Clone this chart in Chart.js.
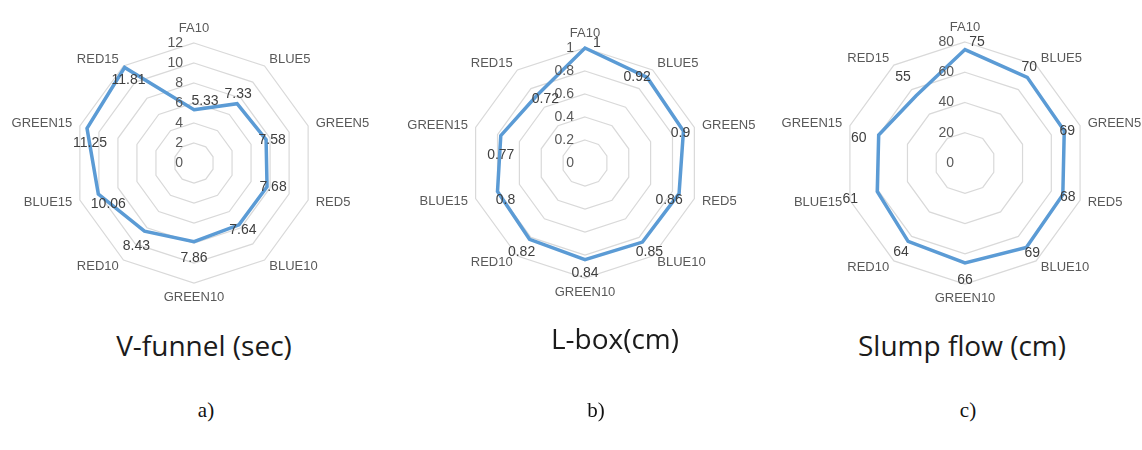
<!DOCTYPE html>
<html>
<head>
<meta charset="utf-8">
<script src="https://cdn.jsdelivr.net/npm/chart.js@4.4.1/dist/chart.umd.min.js"></script>
<style>
  html, body { margin: 0; padding: 0; background: #ffffff; }
  #wrap { position: relative; width: 1142px; height: 450px; overflow: hidden; background: #fff; }
  canvas { position: absolute; top: 0; }
  .title { position: absolute; font-family: "Open Sans", "Liberation Sans", sans-serif; font-size: 28px; color: #1b1b1b; white-space: nowrap; line-height: 1; transform: translateX(-50%); }
  .cap { position: absolute; font-family: "Liberation Serif", "DejaVu Serif", serif; font-size: 21px; color: #111; white-space: nowrap; line-height: 1; transform: translateX(-50%); }
</style>
</head>
<body>
<div id="wrap">
  <canvas id="cA" width="380" height="320" style="left:0px"></canvas>
  <canvas id="cB" width="380" height="320" style="left:380px"></canvas>
  <canvas id="cC" width="382" height="320" style="left:760px"></canvas>
  <div class="title" style="left:204px; top:331px">V-funnel (sec)</div>
  <div class="title" style="left:615px; top:324px">L-box(cm)</div>
  <div class="title" style="left:962px; top:331px">Slump flow (cm)</div>
  <div class="cap" style="left:206px; top:400px">a)</div>
  <div class="cap" style="left:596px; top:400px">b)</div>
  <div class="cap" style="left:968px; top:400px">c)</div>
</div>
<script>
// Mix designs (axis categories)
const categories = ["FA10", "BLUE5", "GREEN5", "RED5", "BLUE10", "GREEN10", "RED10", "BLUE15", "GREEN15", "RED15"];

// V-funnel time (sec)
const vFunnel = [5.33, 7.33, 7.58, 7.68, 7.64, 7.86, 8.43, 10.06, 11.25, 11.81];
// L-box ratio
const lBox = [1, 0.92, 0.9, 0.86, 0.85, 0.84, 0.82, 0.8, 0.77, 0.72];
// Slump flow (cm)
const slumpFlow = [75, 70, 69, 68, 69, 66, 64, 61, 60, 55];

// Radial tick labels
const vFunnelTicks = [0, 2, 4, 6, 8, 10, 12];
const lBoxTicks = [0, 0.2, 0.4, 0.6, 0.8, 1];
const slumpTicks = [0, 20, 40, 60, 80];

// Value-label nudges (px) relative to each vertex
const vFunnelLabelShift = [[11,-9],[1,-10],[6,1],[6,0],[4,5],[0,17],[-8,15],[10,10],[3,15],[4,13]];
const lBoxLabelShift = [[12,-5],[-10,0],[-3,2],[-10,7],[7,10],[0,14],[-8,13],[8,9],[0,20],[9,3]];
const slumpLabelShift = [[12,-7],[2,-10],[3,0],[5,2],[6,6],[0,17],[-7,11],[-27,8],[-20,3],[-13,-19]];

const LINE = "#5B9BD5";
const GRID = "#d9d9d9";
const AXIS_TEXT = "#595959";
const VALUE_TEXT = "#404040";
const SANS = '"Liberation Sans", Arial, sans-serif';

// Draws tick numbers, category names and value labels on the radar
const radarText = {
  id: "radarText",
  afterDatasetsDraw(chart, args, opts) {
    const ctx = chart.ctx;
    const r = chart.scales.r;
    const meta = chart.getDatasetMeta(0);
    ctx.save();

    // tick labels up the vertical axis
    ctx.font = "14px " + SANS;
    ctx.fillStyle = AXIS_TEXT;
    ctx.textAlign = "right";
    ctx.textBaseline = "middle";
    opts.ticks.forEach(t => {
      const d = r.getDistanceFromCenterForValue(t);
      ctx.fillText(String(t), r.xCenter - 11, r.yCenter - d);
    });

    // category names around the outside
    ctx.font = "13px " + SANS;
    const n = chart.data.labels.length;
    chart.data.labels.forEach((lab, i) => {
      const p = r.getPointPosition(i, r.drawingArea + 8);
      const deg = (360 * i / n) % 360;
      let align = "center", base = "middle";
      if (deg === 0) { base = "bottom"; }
      else if (deg === 180) { base = "top"; }
      else if (deg < 180) { align = "left"; }
      else { align = "right"; }
      ctx.textAlign = align;
      ctx.textBaseline = base;
      ctx.fillText(lab, p.x, p.y);
    });

    // value labels next to each vertex
    ctx.font = "14px " + SANS;
    ctx.fillStyle = VALUE_TEXT;
    ctx.textAlign = "center";
    ctx.textBaseline = "middle";
    const vals = chart.data.datasets[0].data;
    meta.data.forEach((pt, i) => {
      const s = opts.shift[i];
      ctx.fillText(String(vals[i]), pt.x + s[0], pt.y + s[1]);
    });
    ctx.restore();
  }
};

function radar(id, values, ticks, shift, max, step, cx, cy, radius) {
  return new Chart(document.getElementById(id), {
    type: "radar",
    data: {
      labels: categories,
      datasets: [{
        data: values,
        borderColor: LINE,
        borderWidth: 3.5,
        fill: false,
        pointRadius: 0,
        pointHoverRadius: 0,
        tension: 0,
        borderJoinStyle: "miter"
      }]
    },
    options: {
      responsive: false,
      animation: false,
      devicePixelRatio: 1,
      events: [],
      plugins: {
        legend: { display: false },
        tooltip: { enabled: false },
        radarText: { ticks: ticks, shift: shift }
      },
      scales: {
        r: {
          min: 0,
          max: max,
          ticks: { stepSize: step, display: false },
          pointLabels: { display: false },
          angleLines: { display: false },
          grid: { color: GRID, lineWidth: 1.2, circular: false },
          afterFit(scale) {
            scale.xCenter = cx;
            scale.yCenter = cy;
            scale.drawingArea = radius;
          }
        }
      }
    },
    plugins: [radarText]
  });
}

radar("cA", vFunnel, vFunnelTicks, vFunnelLabelShift, 12, 2, 194, 163, 120);
radar("cB", lBox, lBoxTicks, lBoxLabelShift, 1, 0.2, 205, 163, 115);
radar("cC", slumpFlow, slumpTicks, slumpLabelShift, 80, 20, 205, 163, 121);
</script>
</body>
</html>
